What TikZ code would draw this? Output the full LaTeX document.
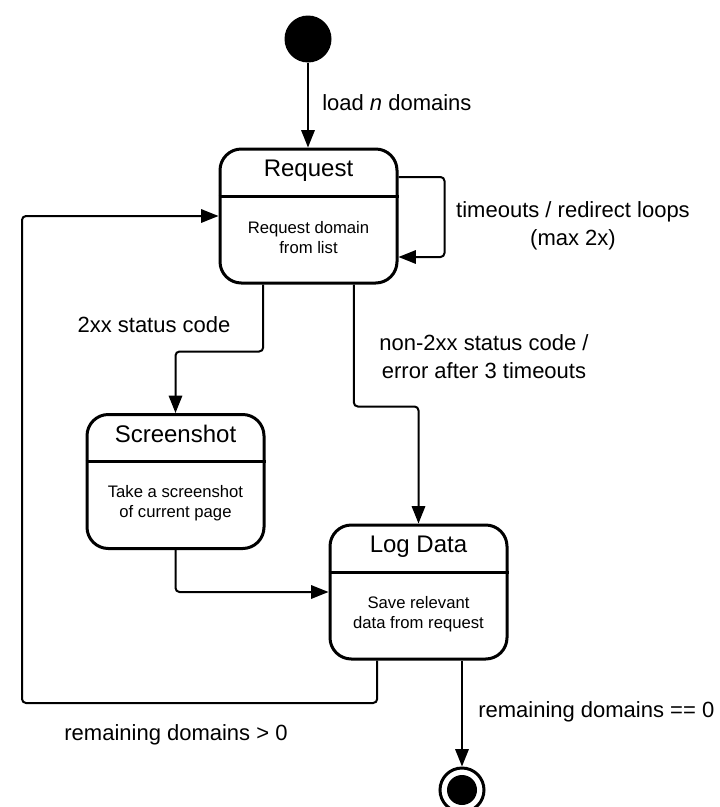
\documentclass[tikz,border=0pt]{standalone}
\usepackage{fontspec}
\setmainfont{Liberation Sans}
\usetikzlibrary{arrows.meta}

\begin{document}
\begin{tikzpicture}[x=0.75pt,y=-0.75pt,
    statebox/.style={draw,line width=2.25pt,rounded corners=16pt,minimum width=132.75pt,minimum height=100.5pt,inner sep=0pt},
    titletext/.style={font=\fontsize{18}{22}\selectfont,inner sep=0pt,anchor=base},
    bodytext/.style={font=\fontsize{12.5}{15}\selectfont,align=center,inner sep=0pt},
    edgetext/.style={font=\fontsize{16.5}{21}\selectfont,align=center,inner sep=0pt},
    conn/.style={line width=1.5pt,rounded corners=3pt,-{Triangle[length=13pt,width=10pt]}}]
  \clip (0,0) rectangle (719,807);
  % start and end states
  \node[circle,fill,inner sep=0pt,minimum size=35.25pt] (start) at (308,39) {};
  \node[circle,draw,line width=2.25pt,inner sep=0pt,minimum size=33pt] (end) at (462,790) {};
  \node[circle,fill,inner sep=0pt,minimum size=22.5pt] (endin) at (end.center) {};
  % state boxes
  \foreach \name/\x/\y/\head/\text in {
      req/308.5/216/Request/{Request domain\\from list},
      shot/175.5/481.5/Screenshot/{Take a screenshot\\of current page},
      log/418.5/592/Log Data/{Save relevant\\data from request}} {
    \node[statebox] (\name) at (\x,\y) {};
    \node[titletext] (\name-head) at ([yshift=-22pt]\name.north) {\head};
    \draw[line width=2.25pt] ([yshift=-36.4pt]\name.north west) -- ([yshift=-36.4pt]\name.north east);
    \node[bodytext] (\name-text) at ([yshift=-16.5pt]\name.center) {\text};
  }
  \coordinate (loopcorner) at (22,703);
  % transitions
  \draw[conn] (start) -- (start |- req.north);
  \draw[conn] ([yshift=29.25pt]req.east) -- ++(46,0) |- ([yshift=-30.75pt]req.east);
  \draw[conn] ([xshift=-34pt]req.south) -- ++(0,67) -| (shot.north);
  \draw[conn] ([xshift=34pt]req.south) -- ++(0,122) -| (log.north);
  \draw[conn] (shot.south) |- (log.west);
  \draw[conn] ([xshift=-31pt]log.south) |- (loopcorner) |- (req.west);
  \draw[conn] (log.south -| end) -- (end.north);
  % transition labels
  \node[edgetext,anchor=west] (loadlbl) at (322,103) {load \textit{n} domains};
  \node[edgetext] (retrylbl) at (573,226) {timeouts / redirect loops\\(max 2x)};
  \node[edgetext] (oklbl) at (154,325) {2xx status code};
  \node[edgetext] (faillbl) at (484,357) {non-2xx status code /\\error after 3 timeouts};
  \node[edgetext] (morelbl) at (176,735) {remaining domains > 0};
  \node[edgetext,anchor=west] (donelbl) at (478,712) {remaining domains == 0};
\end{tikzpicture}
\end{document}
